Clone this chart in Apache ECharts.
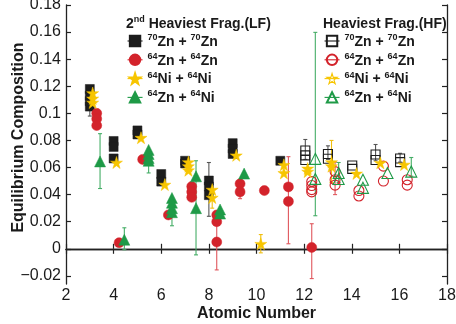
<!DOCTYPE html>
<html>
<head>
<meta charset="utf-8">
<script src="https://cdn.jsdelivr.net/npm/echarts@6/dist/echarts.min.js"></script>
<style>
  html, body { margin: 0; padding: 0; background: #fff; }
  #chart { width: 456px; height: 324px; }
</style>
</head>
<body>
<div id="chart"></div>
<script>
// [atomic number (slightly offset per system), composition]
const lfZnZn70 = [[3.0, 0.118], [3.0, 0.113], [3.0, 0.109], [3.0, 0.105], [4.0, 0.0796], [4.0, 0.0752], [4.0, 0.0667],
  [5.0, 0.0874], [5.0, 0.0844], [6.0, 0.0552], [6.0, 0.0496], [7.0, 0.065], [7.0, 0.063],
  [8.0, 0.0504], [8.0, 0.046], [8.0, 0.0396], [9.0, 0.078], [9.0, 0.074], [9.0, 0.070], [11.0, 0.065]]
const lfZnZn64 = [[3.29, 0.100], [3.29, 0.096], [3.29, 0.091], [4.23, 0.0045], [5.22, 0.066], [6.3, 0.025],
  [7.28, 0.046], [7.28, 0.042], [7.28, 0.038], [8.33, 0.025], [8.33, 0.020], [8.33, 0.005],
  [9.31, 0.048], [9.31, 0.042], [10.33, 0.043], [11.34, 0.0457], [11.34, 0.035], [12.32, 0.001]]
const lfNiNi64 = [[3.12, 0.115], [3.12, 0.111], [3.12, 0.108], [4.12, 0.0637], [5.15, 0.082], [6.15, 0.0474],
  [7.14, 0.064], [7.14, 0.061], [7.14, 0.058], [8.14, 0.0437], [8.14, 0.0378], [9.15, 0.069],
  [10.18, 0.0037], [11.15, 0.062], [11.15, 0.056]]
const lfZnNi64 = [[3.43, 0.0645], [4.45, 0.0067], [5.47, 0.073], [5.47, 0.070], [5.47, 0.067], [5.47, 0.065],
  [6.45, 0.0375], [6.45, 0.034], [6.45, 0.030], [6.45, 0.027], [7.46, 0.0535], [7.46, 0.030],
  [8.47, 0.029], [8.47, 0.026], [9.48, 0.0555]]

const hfZnZn70 = [[12.05, 0.0726], [12.05, 0.069], [12.05, 0.0656], [13.0, 0.070], [13.0, 0.0665],
  [14.02, 0.0615], [14.02, 0.059], [15.0, 0.0696], [15.0, 0.0656], [16.03, 0.0667], [16.03, 0.064]]
const hfZnZn64 = [[12.32, 0.0496], [12.32, 0.0467], [12.32, 0.0437], [12.32, 0.042], [13.3, 0.057],
  [13.3, 0.051], [13.3, 0.047], [14.3, 0.043], [14.3, 0.039], [15.33, 0.061], [15.33, 0.050],
  [16.33, 0.051], [16.33, 0.047]]
const hfNiNi64 = [[12.15, 0.0593], [12.15, 0.057], [13.15, 0.064], [13.15, 0.061], [14.2, 0.0556],
  [15.2, 0.0635], [16.2, 0.0622]]
const hfZnNi64 = [[12.47, 0.0664], [12.47, 0.0516], [13.45, 0.056], [13.45, 0.0515], [14.47, 0.051],
  [14.47, 0.045], [15.5, 0.056], [16.5, 0.057]]

// error bars: [x, low, high]
const errBlack = [[3.0, 0.098, 0.118], [8.0, 0.024, 0.0637], [12.05, 0.066, 0.0807], [13.0, 0.066, 0.076],
  [15.0, 0.065, 0.077], [16.03, 0.064, 0.0705]]
const errRed = [[8.33, -0.0156, 0.020], [9.31, 0.037, 0.048], [11.34, 0.0037, 0.068], [12.32, -0.022, 0.0185],
  [13.3, 0.040, 0.064]]
const errYellow = [[8.14, 0.030, 0.0437], [10.18, -0.003, 0.0105], [13.15, 0.049, 0.080]]
const errGreen = [[3.43, 0.0445, 0.085], [4.45, -0.0007, 0.0155], [5.47, 0.056, 0.065], [6.45, 0.017, 0.027],
  [7.46, -0.0045, 0.065], [12.47, 0.0244, 0.1598], [13.45, 0.049, 0.0637], [16.5, 0.0536, 0.0674]]

const yTicks = [-0.02, 0, 0.02, 0.04, 0.06, 0.08, 0.1, 0.12, 0.14, 0.16, 0.18]

const BLACK = '#1c1c1c'
const RED = '#d3232b'
const YELLOW = '#f7c500'
const GREEN = '#1e9a47'
const STAR = 'path://M50,0L61,35L98,35L68,57L79,91L50,70L21,91L32,57L2,35L39,35Z'

const legendText = {
  LF_A: '{s|70}{b|Zn + }{s|70}{b|Zn}', LF_B: '{s|64}{b|Zn + }{s|64}{b|Zn}',
  LF_C: '{s|64}{b|Ni + }{s|64}{b|Ni}', LF_D: '{s|64}{b|Zn + }{s|64}{b|Ni}',
  HF_A: '{s|70}{b|Zn + }{s|70}{b|Zn}', HF_B: '{s|64}{b|Zn + }{s|64}{b|Zn}',
  HF_C: '{s|64}{b|Ni + }{s|64}{b|Ni}', HF_D: '{s|64}{b|Zn + }{s|64}{b|Ni}',
}
const rich = {
  b: { fontSize: 14, fontWeight: 'bold', color: '#1a1a1a', fontFamily: 'Liberation Sans', lineHeight: 16, verticalAlign: 'bottom' },
  s: { fontSize: 9, fontWeight: 'bold', color: '#1a1a1a', fontFamily: 'Liberation Sans', lineHeight: 16, verticalAlign: 'top' },
}

const markSeries = (name, data, symbol, size, color, open) => ({
  name,
  type: 'line',
  data,
  symbol,
  symbolSize: size,
  showAllSymbol: true,
  lineStyle: { color, opacity: 0, width: 1 },
  itemStyle: open
    ? { color: 'rgba(255,255,255,0)', borderColor: color, borderWidth: 1.1 }
    : { color, borderColor: color, borderWidth: 0.5 },
  emphasis: { disabled: true },
  z: 3,
})

const errSeries = (data, color) => ({
  type: 'custom',
  data,
  encode: { x: 0, y: [1, 2] },
  z: 2,
  renderItem: (params, api) => {
    const x = api.value(0)
    const p1 = api.coord([x, api.value(1)])
    const p2 = api.coord([x, api.value(2)])
    const c = 2
    const st = { stroke: color, lineWidth: 1.1 }
    return {
      type: 'group',
      children: [
        { type: 'line', shape: { x1: p1[0], y1: p1[1], x2: p2[0], y2: p2[1] }, style: st },
        { type: 'line', shape: { x1: p1[0] - c, y1: p1[1], x2: p1[0] + c, y2: p1[1] }, style: st },
        { type: 'line', shape: { x1: p2[0] - c, y1: p2[1], x2: p2[0] + c, y2: p2[1] }, style: st },
      ],
    }
  },
})

const axisLine = { show: true, lineStyle: { color: '#222', width: 1.3 } }
const tick = { show: true, inside: true, length: 5, lineStyle: { color: '#222', width: 1.2 } }

const legendBase = {
  orient: 'vertical',
  top: 28,
  itemWidth: 15,
  itemHeight: 13,
  itemGap: 2.8,
  selectedMode: false,
  formatter: (n) => legendText[n],
  textStyle: { rich },
  lineStyle: { opacity: 1, width: 1.1 },
}

const chart = echarts.init(document.getElementById('chart'))
chart.setOption({
  animation: false,
  textStyle: { fontFamily: 'Liberation Sans' },
  grid: { left: 66, right: 9, top: 5, bottom: 40, outerBoundsMode: 'none' },
  title: [
    { left: 121, top: 10, text: '{b|2}{s|nd}{b| Heaviest Frag.(LF)}', textStyle: { rich } },
    { left: 318, top: 10, text: '{b|Heaviest Frag.(HF)}', textStyle: { rich } },
  ],
  legend: [
    Object.assign({}, legendBase, { left: 122, data: ['LF_A', 'LF_B', 'LF_C', 'LF_D'] }),
    Object.assign({}, legendBase, {
      left: 319,
      data: ['HF_A', 'HF_B', { name: 'HF_C', itemStyle: { color: 'rgba(255,255,255,0)', borderColor: YELLOW, borderWidth: 1.1 } }, 'HF_D'],
    }),
  ],
  xAxis: [
    {
      type: 'value', min: 2, max: 18, interval: 2,
      name: 'Atomic Number', nameLocation: 'middle', nameGap: 22, nameMoveOverlap: false,
      nameTextStyle: { fontSize: 16, fontWeight: 'bold', color: '#1a1a1a' },
      axisLine, axisTick: tick,
      axisLabel: { fontSize: 16, color: '#1a1a1a', margin: 4 },
      splitLine: { show: false },
    },
    {
      type: 'value', position: 'top', min: 2, max: 18, interval: 2,
      axisLine, axisTick: tick, axisLabel: { show: false }, splitLine: { show: false },
    },
  ],
  yAxis: [
    {
      type: 'value', min: -0.026, max: 0.18,
      name: 'Equilibrium Composition', nameLocation: 'middle', nameGap: 39, nameMoveOverlap: false,
      nameTextStyle: { fontSize: 16, fontWeight: 'bold', color: '#1a1a1a', padding: [0, 0, 0, 14] },
      axisLine,
      axisTick: Object.assign({ customValues: yTicks }, tick),
      axisLabel: {
        fontSize: 16, color: '#1a1a1a', margin: 5, customValues: yTicks,
        formatter: (v) => String(Math.round(v * 100) / 100).replace('-', '\u2212'),
      },
      splitLine: { show: false },
    },
    {
      type: 'value', position: 'right', min: -0.026, max: 0.18,
      axisLine, axisTick: Object.assign({ customValues: yTicks }, tick),
      axisLabel: { show: false, customValues: yTicks }, splitLine: { show: false },
    },
  ],
  series: [
    errSeries(errBlack, '#555'),
    errSeries(errRed, '#e0575d'),
    errSeries(errYellow, '#f0bf10'),
    errSeries(errGreen, '#45ad66'),
    markSeries('LF_A', lfZnZn70, 'rect', 9, BLACK, false),
    markSeries('LF_B', lfZnZn64, 'circle', 10, RED, false),
    markSeries('LF_C', lfNiNi64, STAR, 12, YELLOW, false),
    markSeries('LF_D', lfZnNi64, 'triangle', 11, GREEN, false),
    markSeries('HF_A', hfZnZn70, 'rect', 9, BLACK, true),
    markSeries('HF_B', hfZnZn64, 'circle', 10, RED, true),
    markSeries('HF_C', hfNiNi64, STAR, 12, YELLOW, false),
    markSeries('HF_D', hfZnNi64, 'triangle', 11, GREEN, true),
  ],
})
</script>
</body>
</html>
